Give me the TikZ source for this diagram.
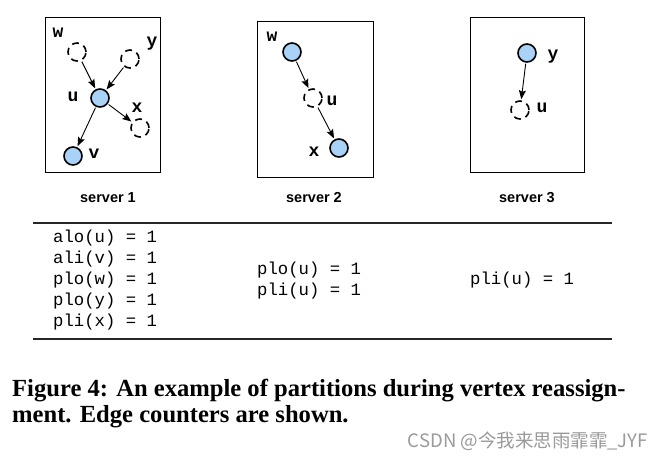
\documentclass[tikz,border=0pt]{standalone}
\usepackage{fontspec}
\setmainfont{Liberation Serif}
\setsansfont{Liberation Sans}
\setmonofont{Liberation Mono}
\newfontfamily\cjk{Noto Sans CJK SC}
\usetikzlibrary{arrows.meta}
\definecolor{nodeblue}{HTML}{A8D2F6}
\definecolor{wmgray}{HTML}{9A9A9A}
\begin{document}
\begin{tikzpicture}[x=1pt,y=-1pt,
  full/.style={circle,draw=black,line width=1.6pt,fill=nodeblue,minimum size=18pt,inner sep=0pt},
  ghost/.style={circle,draw=black,line width=1.6pt,dash pattern=on 7pt off 5pt,minimum size=18pt,inner sep=0pt},
  lbl/.style={font=\ttfamily\bfseries\fontsize{18}{18}\selectfont,inner sep=0pt},
  edge/.style={-{Stealth[length=9pt,width=7pt,inset=1.5pt]},line width=0.9pt,shorten >=1pt,shorten <=1pt},
  srvbox/.style={draw=black,line width=1pt},
  srvlbl/.style={font=\sffamily\bfseries\fontsize{14.5}{14.5}\selectfont,inner sep=0pt},
  cnt/.style={font=\ttfamily\fontsize{17.3}{17.3}\selectfont,inner sep=0pt,anchor=west},
  capt/.style={font=\bfseries\fontsize{24.6}{24.6}\selectfont,inner sep=0pt,anchor=base west},
  rulel/.style={line width=1.4pt,draw=black!85}
]
\path[use as bounding box,fill=white] (0,0) rectangle (662,461);

% server boxes
\draw[srvbox] (45,17) rectangle (160,172);
\draw[srvbox] (257,21) rectangle (373,177);
\draw[srvbox] (470,17) rectangle (584,172);

% server 1
\node[ghost] (w1) at (77,52) {};
\node[ghost] (y1) at (130,59) {};
\node[full] (u1) at (100,98) {};
\node[ghost] (x1) at (140,128) {};
\node[full] (v1) at (73,156) {};
\node[lbl] (lw1) at (58,33) {w};
\node[lbl] (ly1) at (152,44) {y};
\node[lbl] (lu1) at (73,97) {u};
\node[lbl] (lx1) at (137,108) {x};
\node[lbl] (lv1) at (94,154) {v};
\draw[edge] (w1) -- (u1);
\draw[edge] (y1) -- (u1);
\draw[edge] (u1) -- (x1);
\draw[edge] (u1) -- (v1);

% server 2
\node[full] (w2) at (292,52) {};
\node[ghost] (u2) at (313,98) {};
\node[full] (x2) at (339,148) {};
\node[lbl] (lw2) at (272,37) {w};
\node[lbl] (lu2) at (332,101) {u};
\node[lbl] (lx2) at (314,152) {x};
\draw[edge] (w2) -- (u2);
\draw[edge] (u2) -- (x2);

% server 3
\node[full] (y3) at (527,53) {};
\node[ghost] (u3) at (520,110) {};
\node[lbl] (ly3) at (553,57) {y};
\node[lbl] (lu3) at (542,108) {u};
\draw[edge] (y3) -- (u3);

% server labels
\node[srvlbl] (s1) at (108,198) {server 1};
\node[srvlbl] (s2) at (314,198) {server 2};
\node[srvlbl] (s3) at (527,198) {server 3};

% rules
\coordinate (r1a) at (33,223);
\coordinate (r1b) at (612,223);
\coordinate (r2a) at (33,339);
\coordinate (r2b) at (612,339);
\draw[rulel] (r1a) -- (r1b);
\draw[rulel] (r2a) -- (r2b);

% counters
\node[cnt] (c1) at (53,238) {alo(u) = 1};
\node[cnt] (c2) at (53,259) {ali(v) = 1};
\node[cnt] (c3) at (53,280) {plo(w) = 1};
\node[cnt] (c4) at (53,301) {plo(y) = 1};
\node[cnt] (c5) at (53,322) {pli(x) = 1};
\node[cnt] (c6) at (257,270) {plo(u) = 1};
\node[cnt] (c7) at (257,291) {pli(u) = 1};
\node[cnt] (c8) at (470,280) {pli(u) = 1};

% caption
\node[capt] (cap1) at (12,396) {Figure 4: An example of partitions during vertex reassign-};
\node[capt] (cap2) at (12,422) {ment. Edge counters are shown.};

% watermark
\node[inner sep=0pt,anchor=east,text=wmgray,font=\cjk\fontsize{18.5}{18.5}\selectfont] (wm) at (648,441) {CSDN @今我来思雨霏霏\_JYF};
\end{tikzpicture}
\end{document}
